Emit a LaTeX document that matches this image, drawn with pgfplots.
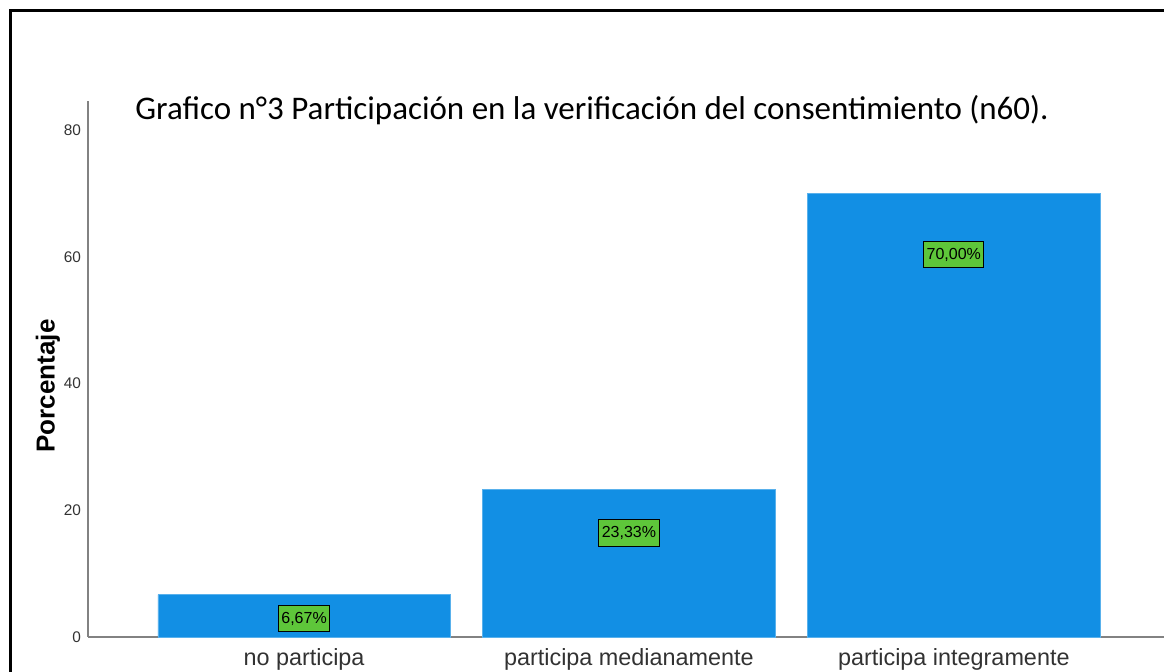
\documentclass[border=0pt]{standalone}
\usepackage{pgfplots}
\pgfplotsset{compat=1.18}
\usepackage{fontspec}
\setmainfont{Liberation Sans}
\newfontfamily\calibri{Carlito}
\definecolor{barblue}{RGB}{18,143,228}
\definecolor{lblgreen}{RGB}{94,198,58}
\definecolor{axgray}{RGB}{130,130,130}
\definecolor{txtgray}{RGB}{50,50,50}

\begin{document}
\begin{tikzpicture}[x=0.5pt,y=0.5pt]
\path[use as bounding box] (0,0) rectangle (1164,672);
\draw[line width=1.5pt] (10.5,0) -- (10.5,661.5) -- (1164,661.5);
\begin{axis}[
  at={(44pt,17.5pt)}, anchor=south west,
  scale only axis, width=538.5pt, height=268pt,
  xmin=-0.665, xmax=2.65, ymin=0, ymax=84.6,
  axis x line*=bottom, axis y line*=left,
  axis line style={axgray, line width=0.6pt, -},
  major tick length=0pt,
  xtick={0,1,2}, xticklabels={no participa, participa medianamente, participa integramente},
  xticklabel style={font=\fontsize{11.7pt}{12pt}\selectfont, text=txtgray, anchor=base, yshift=-14.5pt},
  ytick={0,20,40,60,80},
  yticklabel style={font=\fontsize{7.7pt}{9pt}\selectfont, text=txtgray},
  /pgf/number format/assume math mode=true,
  clip=false,
]
\addplot[ybar, bar width=0.9, fill=barblue, draw=barblue!70!white, line width=0.3pt] coordinates {(0,6.67) (1,23.33) (2,70.00)};
\addplot[only marks, mark=none, nodes near coords, point meta=explicit symbolic, nodes near coords style={anchor=center, fill=lblgreen, draw=black, line width=0.5pt, font=\fontsize{8pt}{9pt}\selectfont, inner xsep=1.5pt, minimum height=12pt, text=black}] coordinates {(0,2.92)[6,67\%] (1,16.4)[23,33\%] (2,60.35)[70,00\%]};
\end{axis}
\node[anchor=base west, font=\calibri\fontsize{16.5pt}{18pt}\selectfont, inner sep=0] at (135,552) {Grafico n°3 Participación en la verificación del consentimiento (n60).};
\node[rotate=90, font=\bfseries\fontsize{13pt}{15pt}\selectfont] at (48,286) {Porcentaje};
\end{tikzpicture}
\end{document}
